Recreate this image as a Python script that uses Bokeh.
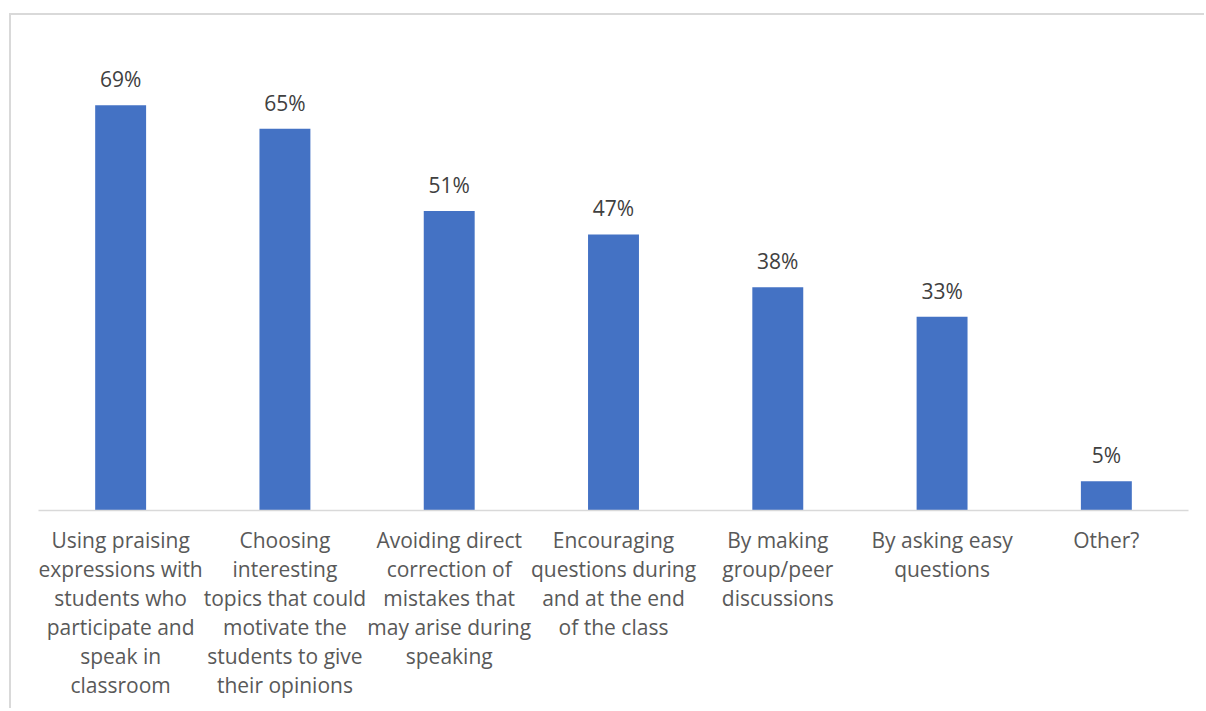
from bokeh.plotting import figure
from bokeh.models import FactorRange, Range1d, ColumnDataSource, LabelSet
from bokeh.core.properties import value
from bokeh.embed import file_html
from bokeh.resources import INLINE

categories = [
    "Using praising\nexpressions with\nstudents who\nparticipate and\nspeak in\nclassroom",
    "Choosing\ninteresting\ntopics that could\nmotivate the\nstudents to give\ntheir opinions",
    "Avoiding direct\ncorrection of\nmistakes that\nmay arise during\nspeaking",
    "Encouraging\nquestions during\nand at the end\nof the class",
    "By making\ngroup/peer\ndiscussions",
    "By asking easy\nquestions",
    "Other?",
]
values = [69, 65, 51, 47, 38, 33, 5]
labels = ["69%", "65%", "51%", "47%", "38%", "33%", "5%"]

FONT = "Open Sans"

src = ColumnDataSource(dict(cat=categories, val=values, lab=labels))

p = figure(
    x_range=FactorRange(*categories, range_padding=0),
    y_range=Range1d(0, 80),
    width=1195, height=695,
    output_backend="svg", toolbar_location=None,
    y_axis_location=None,
    min_border_left=27, min_border_right=18,
    min_border_top=25, min_border_bottom=200,
)
p.margin = (13, 0, 0, 9)
p.styles = {"border-left": "2px solid #d9d9d9", "border-top": "2px solid #d9d9d9"}
p.outline_line_color = None
p.xgrid.visible = False
p.ygrid.visible = False

p.vbar(x="cat", top="val", width=0.31, source=src, fill_color="#4472C4", line_color=None)

p.add_layout(LabelSet(x="cat", y="val", text="lab", source=src, y_offset=18,
                      text_align="center", text_baseline="alphabetic",
                      text_font=value(FONT), text_font_size="21px", text_color="#404040"))

ax = p.xaxis[0]
ax.axis_line_color = "#d9d9d9"
ax.axis_line_width = 1.5
ax.major_tick_line_color = None
ax.minor_tick_line_color = None
ax.major_label_text_font = FONT
ax.major_label_text_font_size = "21px"
ax.major_label_text_color = "#595959"
ax.major_label_standoff = 9
ax.major_label_text_line_height = 1.04
ax.major_label_orientation = "horizontal"

open("out.html", "w").write(file_html(p, INLINE))
